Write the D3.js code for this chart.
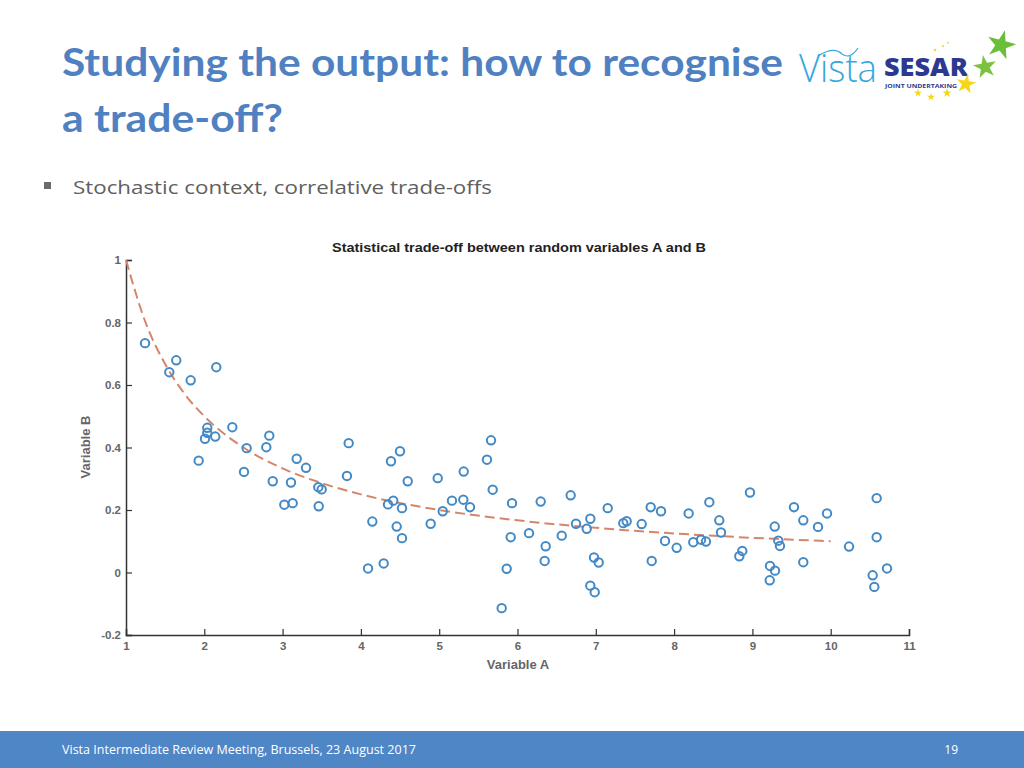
<!DOCTYPE html>
<html>
<head>
<meta charset="utf-8">
<script src="https://cdn.jsdelivr.net/npm/d3@7"></script>
<style>
  body { margin: 0; background: #fff; }
  svg { display: block; }
</style>
</head>
<body>
<svg id="canvas" width="1024" height="768"></svg>
<script>
// scatter values
let variableA = [
  1.243, 1.553, 1.642, 1.826, 2.153, 1.928, 2.009, 2.038, 2.038, 2.14,
  2.358, 2.541, 2.507, 2.792, 2.83, 2.874, 3.022, 3.129, 3.107, 3.18,
  3.299, 3.456, 3.499, 3.461, 3.822, 3.844, 4.146, 4.091, 4.291, 4.346,
  4.414, 4.384, 4.499, 4.598, 4.525, 4.457, 4.525, 4.981, 4.891, 5.045,
  5.163, 5.313, 5.308, 5.393, 5.61, 5.662, 5.683, 5.93, 5.913, 5.862,
  5.798, 6.296, 6.147, 6.36, 6.347, 6.679, 6.565, 6.747, 6.884, 6.93,
  7.152, 6.977, 7.037, 6.93, 6.986, 7.351, 7.394, 7.586, 7.701, 7.833,
  7.714, 7.884, 8.033, 8.186, 8.245, 8.344, 8.407, 8.45, 8.577, 8.599,
  8.969, 8.833, 8.871, 9.285, 9.331, 9.352, 9.225, 9.289, 9.221, 9.531,
  9.65, 9.838, 9.953, 9.65, 10.234, 10.587, 10.536, 10.587, 10.719, 10.557
];
let variableB = [
  0.734, 0.641, 0.679, 0.615, 0.657, 0.358, 0.428, 0.463, 0.447, 0.435,
  0.465, 0.398, 0.322, 0.401, 0.438, 0.292, 0.217, 0.222, 0.288, 0.364,
  0.335, 0.273, 0.266, 0.212, 0.309, 0.414, 0.163, 0.013, 0.029, 0.218,
  0.23, 0.356, 0.388, 0.292, 0.206, 0.147, 0.11, 0.302, 0.156, 0.196,
  0.23, 0.323, 0.233, 0.209, 0.361, 0.423, 0.265, 0.222, 0.113, 0.012,
  -0.114, 0.227, 0.126, 0.084, 0.037, 0.247, 0.118, 0.156, 0.14, 0.172,
  0.206, 0.048, 0.032, -0.042, -0.063, 0.158, 0.164, 0.155, 0.209, 0.196,
  0.037, 0.101, 0.079, 0.189, 0.097, 0.105, 0.099, 0.225, 0.167, 0.128,
  0.256, 0.052, 0.069, 0.147, 0.102, 0.085, 0.021, 0.006, -0.025, 0.209,
  0.167, 0.146, 0.189, 0.033, 0.083, 0.238, -0.009, 0.113, 0.013, -0.046
];

// dashed trend curve
let trendA = [1, 1.25, 1.5, 1.75, 2, 2.5, 3, 3.5, 4, 5, 6, 7, 8, 9, 10];
let trendB = [1, 0.8, 0.667, 0.571, 0.5, 0.4, 0.333, 0.286, 0.25, 0.2, 0.167, 0.143, 0.125, 0.111, 0.1];

let xTicks = [1, 2, 3, 4, 5, 6, 7, 8, 9, 10, 11];
let yTicks = [-0.2, 0, 0.2, 0.4, 0.6, 0.8, 1];
let yTickLabels = ['-0.2', '0', '0.2', '0.4', '0.6', '0.8', '1'];

let titleLines = ['Studying the output: how to recognise', 'a trade-off?'];
let bulletText = 'Stochastic context, correlative trade-offs';
let chartTitle = 'Statistical trade-off between random variables A and B';
let footerText = 'Vista Intermediate Review Meeting, Brussels, 23 August 2017';
let pageNumber = '19';

let canvas = d3.select('#canvas');

let drawSlide = () => {
  // slide title
  canvas
    .selectAll('.title')
    .data(titleLines)
    .enter()
    .append('text')
    .attr('class', 'title')
    .attr('x', 62)
    .attr('y', (d, i) => 76 + i * 56)
    .attr('textLength', (d, i) => (i === 0 ? 721 : 221))
    .attr('lengthAdjust', 'spacingAndGlyphs')
    .style('font-family', 'Lato, "Open Sans", sans-serif')
    .style('font-weight', 'bold')
    .style('font-size', '39px')
    .style('fill', '#4f81c2')
    .text((d) => d);

  // bullet
  canvas
    .append('rect')
    .attr('x', 44)
    .attr('y', 182)
    .attr('width', 7)
    .attr('height', 7)
    .style('fill', '#6b6b6b');

  canvas
    .append('text')
    .attr('x', 73)
    .attr('y', 194)
    .attr('textLength', 419)
    .attr('lengthAdjust', 'spacingAndGlyphs')
    .style('font-family', '"Open Sans", Lato, sans-serif')
    .style('font-size', '19px')
    .style('fill', '#5f5f5f')
    .text(bulletText);

  // footer band
  canvas
    .append('rect')
    .attr('x', 0)
    .attr('y', 731)
    .attr('width', 1024)
    .attr('height', 37)
    .style('fill', '#4f86c6');

  canvas
    .append('text')
    .attr('x', 62)
    .attr('y', 754)
    .attr('textLength', 354)
    .attr('lengthAdjust', 'spacingAndGlyphs')
    .style('font-family', '"Open Sans", sans-serif')
    .style('font-size', '12px')
    .style('fill', '#ffffff')
    .text(footerText);

  canvas
    .append('text')
    .attr('x', 958)
    .attr('y', 754)
    .attr('text-anchor', 'end')
    .style('font-family', '"Open Sans", sans-serif')
    .style('font-size', '12px')
    .style('fill', '#ffffff')
    .text(pageNumber);
};

let drawLogo = () => {
  let logo = canvas.append('g');

  logo
    .append('text')
    .attr('x', 799)
    .attr('y', 82)
    .attr('textLength', 78)
    .attr('lengthAdjust', 'spacingAndGlyphs')
    .style('font-family', '"Open Sans", sans-serif')
    .style('font-weight', '300')
    .style('font-size', '38px')
    .style('fill', '#35a8de')
    .text('Vista');

  // little swoosh over the V
  logo
    .append('path')
    .attr('d', 'M818,56 Q834,46 842,54 Q850,60 858,48')
    .style('fill', 'none')
    .style('stroke', '#35a8de')
    .style('stroke-width', 1.2);

  logo
    .append('text')
    .attr('x', 884)
    .attr('y', 76)
    .attr('textLength', 84)
    .attr('lengthAdjust', 'spacingAndGlyphs')
    .style('font-family', '"Open Sans", sans-serif')
    .style('font-weight', '800')
    .style('font-size', '25px')
    .style('fill', '#2b3990')
    .text('SESAR');

  logo
    .append('text')
    .attr('x', 885)
    .attr('y', 88)
    .attr('textLength', 72)
    .attr('lengthAdjust', 'spacingAndGlyphs')
    .style('font-family', '"Open Sans", sans-serif')
    .style('font-weight', 'bold')
    .style('font-size', '5.5px')
    .style('fill', '#2b3990')
    .text('JOINT UNDERTAKING');

  let stars = [
    { x: 1001, y: 45, r: 260, c: '#6abf3a', rot: 15 },
    { x: 985, y: 67, r: 170, c: '#7cc242', rot: -10 },
    { x: 966, y: 84, r: 120, c: '#f5d61a', rot: 10 },
    { x: 918, y: 93, r: 20, c: '#f5d61a', rot: 0 },
    { x: 931, y: 97, r: 20, c: '#f5d61a', rot: 0 },
    { x: 947, y: 93, r: 26, c: '#f5d61a', rot: 0 },
    { x: 935, y: 50, r: 5, c: '#f0d040', rot: 0 },
    { x: 943, y: 46, r: 4, c: '#f0d040', rot: 0 },
    { x: 948, y: 43, r: 3, c: '#f0d040', rot: 0 }
  ];

  logo
    .selectAll('.star')
    .data(stars)
    .enter()
    .append('path')
    .attr('class', 'star')
    .attr('d', (s) => d3.symbol().type(d3.symbolStar).size(s.r)())
    .attr('transform', (s) => 'translate(' + s.x + ',' + s.y + ') rotate(' + s.rot + ')')
    .style('fill', (s) => s.c);
};

let drawChart = () => {
  let xScale = d3.scaleLinear().domain([1, 11]).range([126, 909]);
  let yScale = d3.scaleLinear().domain([-0.2, 1]).range([635, 260]);

  let tickFont = 'Liberation Sans, Arial, sans-serif';

  // axes, ticks pointing inward
  let xAxis = d3.axisBottom(xScale).tickValues(xTicks).tickSize(-6).tickPadding(7).tickFormat(d3.format('d'));
  let xG = canvas.append('g').attr('transform', 'translate(0,635)').call(xAxis);

  let yAxis = d3.axisLeft(yScale).tickValues(yTicks).tickSize(-6).tickPadding(5).tickFormat((d, i) => yTickLabels[i]);
  let yG = canvas.append('g').attr('transform', 'translate(126,0)').call(yAxis);

  [xG, yG].forEach((g) => {
    g.select('.domain').style('stroke', '#333').style('stroke-width', 1.5);
    g.selectAll('.tick line').style('stroke', '#333').style('stroke-width', 1.2);
    g.selectAll('.tick text')
      .style('font-family', tickFont)
      .style('font-weight', 'bold')
      .style('font-size', '11.5px')
      .style('fill', '#666');
  });

  // trend line
  let trendPoints = trendA.map((a, i) => [a, trendB[i]]);
  let line = d3
    .line()
    .x((p) => xScale(p[0]))
    .y((p) => yScale(p[1]))
    .curve(d3.curveMonotoneX);

  canvas
    .append('path')
    .datum(trendPoints)
    .attr('d', line)
    .style('fill', 'none')
    .style('stroke', '#d4866a')
    .style('stroke-width', 2)
    .style('stroke-dasharray', '10,5');

  // scatter
  let points = variableA.map((a, i) => ({ a: a, b: variableB[i] }));
  canvas
    .selectAll('.dot')
    .data(points)
    .enter()
    .append('circle')
    .attr('class', 'dot')
    .attr('cx', (p) => xScale(p.a))
    .attr('cy', (p) => yScale(p.b))
    .attr('r', 4.2)
    .style('fill', 'none')
    .style('stroke', '#4289c6')
    .style('stroke-width', 2);

  // titles and labels
  canvas
    .append('text')
    .attr('x', 519)
    .attr('y', 252)
    .attr('text-anchor', 'middle')
    .attr('textLength', 374)
    .attr('lengthAdjust', 'spacingAndGlyphs')
    .style('font-family', tickFont)
    .style('font-weight', 'bold')
    .style('font-size', '13px')
    .style('fill', '#222')
    .text(chartTitle);

  canvas
    .append('text')
    .attr('x', 518)
    .attr('y', 669)
    .attr('text-anchor', 'middle')
    .style('font-family', tickFont)
    .style('font-weight', 'bold')
    .style('font-size', '13px')
    .style('fill', '#666')
    .text('Variable A');

  canvas
    .append('text')
    .attr('transform', 'translate(90,447) rotate(-90)')
    .attr('text-anchor', 'middle')
    .style('font-family', tickFont)
    .style('font-weight', 'bold')
    .style('font-size', '13px')
    .style('fill', '#666')
    .text('Variable B');
};

drawSlide();
drawLogo();
drawChart();
</script>
</body>
</html>
